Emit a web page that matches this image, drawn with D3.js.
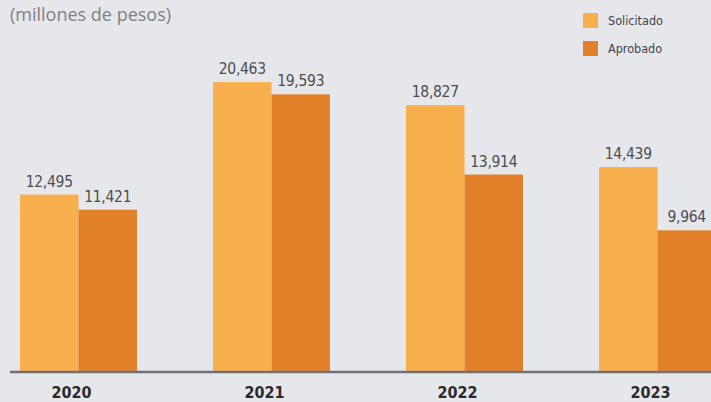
<!DOCTYPE html>
<html lang="es">
<head>
<meta charset="UTF-8">
<title>Solicitado vs Aprobado</title>
<script src="https://cdn.jsdelivr.net/npm/d3@7/dist/d3.min.js"></script>
<style>
    body { margin: 0; background: #e6e7ea; }
    svg { display: block; }
</style>
</head>
<body>
<svg id="main" width="711" height="402"></svg>
<script>
    // data
    const years = ["2020", "2021", "2022", "2023"];
    const solicitado = [12495, 20463, 18827, 14439];
    const aprobado = [11421, 19593, 13914, 9964];
    const seriesNames = ["Solicitado", "Aprobado"];
    const colors = ["#f8b04f", "#e2802a"];

    const width = 711, height = 402;
    const baseY = 371;
    const svg = d3.select("#main");

    svg.append("rect").attr("width", width).attr("height", height).attr("fill", "#e6e7ea");

    const x = d3.scaleBand().domain(years).range([20, 716]).paddingInner(0.394).paddingOuter(0);
    const xs = d3.scaleBand().domain(seriesNames).range([0, x.bandwidth()]);
    const y = d3.scaleLinear().domain([0, 25000]).range([baseY, 18]);

    const rows = years.map((yr, i) => ({
        year: yr,
        values: [
            { name: seriesNames[0], v: solicitado[i] },
            { name: seriesNames[1], v: aprobado[i] }
        ]
    }));

    const groups = svg.selectAll("g.year").data(rows).join("g")
        .attr("class", "year")
        .attr("transform", d => `translate(${x(d.year)},0)`);

    groups.selectAll("rect").data(d => d.values).join("rect")
        .attr("x", d => xs(d.name))
        .attr("y", d => y(d.v))
        .attr("width", xs.bandwidth())
        .attr("height", d => baseY - y(d.v))
        .attr("fill", (d, i) => colors[i]);

    groups.selectAll("text.val").data(d => d.values).join("text")
        .attr("class", "val")
        .attr("x", d => xs(d.name) + xs.bandwidth() / 2)
        .attr("y", d => y(d.v) - 8)
        .attr("text-anchor", "middle")
        .attr("font-family", "DejaVu Sans Condensed, DejaVu Sans")
        .attr("font-size", 15.5)
        .attr("letter-spacing", -0.3)
        .attr("fill", "#4b4d52")
        .text(d => d3.format(",")(d.v));

    // baseline
    svg.append("line")
        .attr("x1", 10).attr("x2", width)
        .attr("y1", baseY + 1).attr("y2", baseY + 1)
        .attr("stroke", "#6f7175").attr("stroke-width", 2.5);

    // year labels
    const xAxis = svg.append("g")
        .attr("transform", `translate(-7,${baseY})`)
        .call(d3.axisBottom(x).tickSize(0).tickPadding(16));
    xAxis.select(".domain").remove();
    xAxis.selectAll("text")
        .attr("font-family", "DejaVu Sans Condensed, DejaVu Sans")
        .attr("font-weight", "bold")
        .attr("font-size", 16)
        .attr("fill", "#2b2b2d");

    // subtitle
    svg.append("text")
        .attr("x", 10).attr("y", 21)
        .attr("font-family", "Open Sans, DejaVu Sans")
        .attr("font-size", 18)
        .attr("fill", "#808186")
        .text("(millones de pesos)");

    // legend
    const legend = svg.append("g").attr("transform", "translate(583,13)");
    seriesNames.forEach((n, i) => {
        legend.append("rect")
            .attr("x", 0).attr("y", i * 28)
            .attr("width", 15).attr("height", 15)
            .attr("fill", colors[i]);
        legend.append("text")
            .attr("x", 25).attr("y", i * 28 + 12)
            .attr("font-family", "DejaVu Sans Condensed, DejaVu Sans")
            .attr("font-size", 12.5)
            .attr("fill", "#3f4250")
            .text(n);
    });
</script>
</body>
</html>
